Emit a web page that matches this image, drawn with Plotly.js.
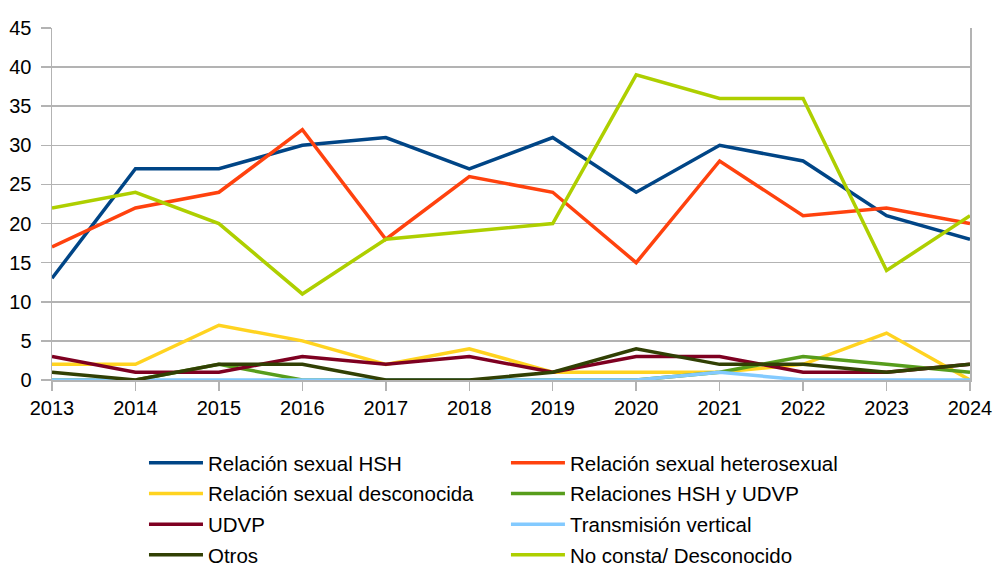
<!DOCTYPE html>
<html>
<head>
<meta charset="utf-8">
<script src="https://cdn.plot.ly/plotly-3.0.1.min.js"></script>
<style>html,body{margin:0;padding:0;background:#fff;}#chart{width:995px;height:567px;}</style>
</head>
<body>
<div id="chart"></div>
<script>
const years = [2013,2014,2015,2016,2017,2018,2019,2020,2021,2022,2023,2024];
const seriesNames = [
  "Relación sexual HSH",
  "Relación sexual heterosexual",
  "Relación sexual desconocida",
  "Relaciones HSH y UDVP",
  "UDVP",
  "Transmisión vertical",
  "Otros",
  "No consta/ Desconocido"
];
const hsh          = [13,27,27,30,31,27,31,24,30,28,21,18];
const heterosexual = [17,22,24,32,18,26,24,15,28,21,22,20];
const desconocida  = [2,2,7,5,2,4,1,1,1,2,6,0];
const hshUdvp      = [0,0,2,0,0,0,0,0,1,3,2,1];
const udvp         = [3,1,1,3,2,3,1,3,3,1,1,2];
const vertical     = [0,0,0,0,0,0,0,0,1,0,0,0];
const otros        = [1,0,2,2,0,0,1,4,2,2,1,2];
const noConsta     = [22,24,20,11,18,19,20,39,36,36,14,21];
const colors = ["#004586","#ff420e","#ffd320","#579d1c","#7e0021","#83caff","#314004","#aecf00"];
const values = [hsh, heterosexual, desconocida, hshUdvp, udvp, vertical, otros, noConsta];

const traces = values.map((v,i)=>({
  x: years, y: v, name: seriesNames[i], type: 'scatter', mode: 'lines',
  line: {color: colors[i], width: 3.5},
  legend: (i % 2 === 0) ? 'legend' : 'legend2',
  legendgroup: 'g' + i,
  hoverinfo: 'skip'
}));

const legendCommon = {
  orientation: 'v', yanchor: 'top', xanchor: 'left',
  itemwidth: 54, font: {size: 20.5, color: '#000'}, traceorder: 'grouped',
  tracegroupgap: 1,
  bgcolor: 'rgba(0,0,0,0)', borderwidth: 0
};

const layout = {
  width: 995, height: 567,
  margin: {l: 52, r: 25, t: 28, b: 187, autoexpand: false},
  paper_bgcolor: '#fff', plot_bgcolor: '#fff',
  font: {family: 'Liberation Sans, Arial, sans-serif', size: 20, color: '#000'},
  showlegend: true,
  xaxis: {
    range: [2013, 2024], tickmode: 'array', tickvals: years, ticktext: years.map(String),
    showgrid: false, zeroline: false, showline: true, linecolor: '#b3b3b3', linewidth: 1.5,
    ticks: 'outside', ticklen: 9, tickcolor: '#b3b3b3', tickwidth: 1.5,
    tickfont: {size: 20, color: '#000'}
  },
  yaxis: {
    range: [0, 45], dtick: 5, tick0: 0,
    showgrid: true, gridcolor: '#b3b3b3', gridwidth: 1.5, zeroline: false,
    showline: true, linecolor: '#b3b3b3', linewidth: 1.5, mirror: true,
    ticks: 'outside', ticklen: 10, tickcolor: '#b3b3b3', tickwidth: 1.5,
    ticklabelstandoff: 5,
    tickfont: {size: 20, color: '#000'}
  },
  legend: Object.assign({}, legendCommon, {x: 0.1002, y: -0.179}),
  legend2: Object.assign({}, legendCommon, {x: 0.4945, y: -0.179})
};

Plotly.newPlot('chart', traces, layout, {displayModeBar: false, staticPlot: true});
</script>
</body>
</html>
